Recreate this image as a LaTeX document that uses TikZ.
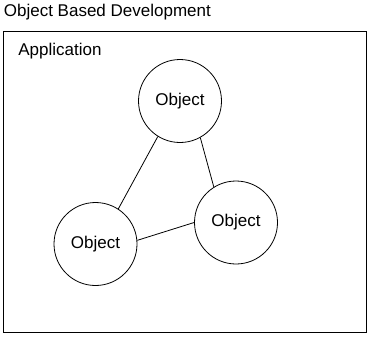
\documentclass[tikz,border=0pt]{standalone}
\usepackage{fontspec}
\setmainfont{Liberation Sans}
\usepackage{tikz}

\tikzset{
  objnode/.style={circle,draw,line width=0.8pt,minimum size=83pt,inner sep=0pt},
  txt/.style={font=\fontsize{17}{20}\selectfont,inner sep=0pt}
}

\begin{document}
\begin{tikzpicture}[x=1pt,y=-1pt,line width=0.8pt]
  \useasboundingbox (0,0) rectangle (371,337);
  \node[txt,anchor=base west] (title) at (3.5,17) {Object Based Development};
  \draw (3.5,31.5) rectangle (366.5,332.5);
  \node[txt,anchor=base west] (app) at (18,55) {Application};
  % objects
  \node[objnode,txt] (top) at (180,101) {Object};
  \node[objnode,txt] (right) at (236,222.5) {Object};
  \node[objnode,txt] (left) at (95.5,244) {Object};
  \draw (top.238) -- (left.57);
  \draw (top.299) -- (right.122);
  \draw (left.5) -- (right.180);
\end{tikzpicture}
\end{document}
